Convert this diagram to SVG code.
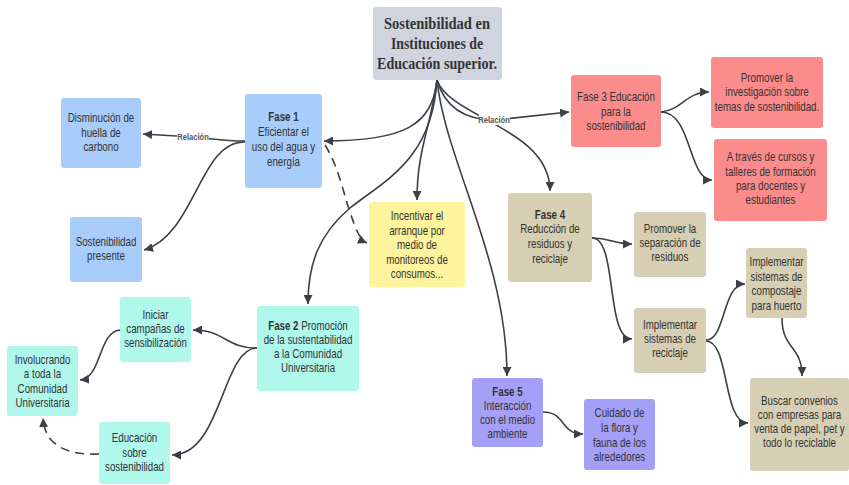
<svg xmlns="http://www.w3.org/2000/svg" width="849" height="485" viewBox="0 0 849 485">
  <defs>
    <marker id="arrow" markerUnits="userSpaceOnUse" markerWidth="10" markerHeight="9" refX="9" refY="4.5" orient="auto">
      <path d="M0,0 L9,4.5 L0,9 z" fill="#3b3f47"/>
    </marker>
    <style>
      .node rect { rx: 3px; ry: 3px; }
      .t { font-family: "Liberation Sans", Arial, sans-serif; font-size: 12.5px; fill: #333333; text-anchor: middle; }
      .b { font-weight: bold; }
      .root { font-family: "Liberation Serif", "Times New Roman", serif; font-size: 17px; font-weight: bold; fill: #333333; text-anchor: middle; }
      .c { fill: none; stroke: #3b3f47; stroke-width: 1.6; marker-end: url(#arrow); }
      .d { stroke-dasharray: 9 6; }
      .lbl { font-family: "Liberation Sans", Arial, sans-serif; font-size: 9.5px; font-weight: bold; fill: #555555; text-anchor: middle; }
      .blue { fill: #a9cdfa; }
      .yellow { fill: #fdf49d; }
      .cyan { fill: #b0f7ec; }
      .red { fill: #fc8c8c; }
      .tan { fill: #d6cfb3; }
      .purple { fill: #a5a0f7; }
      .gray { fill: #cfd4de; }
    </style>
  </defs>

  <rect width="849" height="485" fill="#ffffff"/>

  <!-- connectors -->
  <g id="connectors">
    <path class="c" d="M437,80 C432,125 405,141 324,141"/>
    <path class="c" d="M437,80 C430,130 417,150 417,200"/>
    <path class="c" d="M437,80 C432,160 385,180 350,208 C318,235 308,265 308,304"/>
    <path class="c" d="M437,80 C445,160 507,260 507,376"/>
    <path class="c" d="M437,80 C450,118 550,128 550,191"/>
    <path class="c" d="M437,80 C445,108 465,120 495,120 L569,112"/>
    <path class="c" d="M245,141 C225,141 215,139 193,137 L143,134"/>
    <path class="c" d="M245,142 C200,140 195,235 144,250"/>
    <path class="c d" d="M325,145 C338,165 344,195 350,212 C356,230 360,240 367,243"/>
    <path class="c" d="M257,348 C225,348 225,330 193,330"/>
    <path class="c" d="M257,348 C222,348 222,455 172,455"/>
    <path class="c" d="M120,330 C98,332 102,378 80,380"/>
    <path class="c d" d="M99,454 C70,455 45,448 43,418"/>
    <path class="c" d="M661,112 C682,110 686,92 709,92"/>
    <path class="c" d="M661,112 C692,112 688,180 712,180"/>
    <path class="c" d="M592,238 C612,238 612,244 632,244"/>
    <path class="c" d="M592,238 C618,238 605,339 632,339"/>
    <path class="c" d="M706,340 C726,340 722,284 745,284"/>
    <path class="c" d="M706,341 C730,341 722,423 748,423"/>
    <path class="c" d="M782,318 C782,350 802,345 802,376"/>
    <path class="c" d="M543,412 C566,412 560,434 583,434"/>
    <!-- edge labels -->
    <rect x="479" y="114" width="31" height="11" fill="#ffffff"/>
    <text class="lbl" transform="translate(494 123) scale(0.8 1)">Relación</text>
    <rect x="177" y="131" width="32" height="11" fill="#ffffff"/>
    <text class="lbl" transform="translate(193 140) scale(0.8 1)">Relación</text>
  </g>

  <!-- nodes; body text is set in a narrowed sans -->
  <g id="root" class="node">
    <rect class="gray" x="373" y="7" width="129" height="73"/>
    <text class="root" x="437" y="29" textLength="106" lengthAdjust="spacingAndGlyphs">Sostenibilidad en</text>
    <text class="root" x="437" y="49" textLength="92" lengthAdjust="spacingAndGlyphs">Instituciones de</text>
    <text class="root" x="437" y="69" textLength="120" lengthAdjust="spacingAndGlyphs">Educación superior.</text>
  </g>

  <g id="fase1" class="node">
    <rect class="blue" x="245" y="94" width="77" height="94"/>
    <g transform="translate(283.5 0) scale(0.78 1)">
      <text class="t b" x="0" y="121">Fase 1</text>
      <text class="t" x="0" y="136">Eficientar el</text>
      <text class="t" x="0" y="151">uso del agua y</text>
      <text class="t" x="0" y="166">energía</text>
    </g>
  </g>

  <g id="huella" class="node">
    <rect class="blue" x="61" y="98" width="80" height="70"/>
    <g transform="translate(101 0) scale(0.78 1)">
      <text class="t" x="0" y="122">Disminución de</text>
      <text class="t" x="0" y="137">huella de</text>
      <text class="t" x="0" y="151">carbono</text>
    </g>
  </g>

  <g id="presente" class="node">
    <rect class="blue" x="70" y="217" width="72" height="65"/>
    <g transform="translate(106 0) scale(0.78 1)">
      <text class="t" x="0" y="246">Sostenibilidad</text>
      <text class="t" x="0" y="260">presente</text>
    </g>
  </g>

  <g id="monitoreo" class="node">
    <rect class="yellow" x="369" y="202" width="96" height="85"/>
    <g transform="translate(417 0) scale(0.78 1)">
      <text class="t" x="0" y="220">Incentivar el</text>
      <text class="t" x="0" y="235">arranque por</text>
      <text class="t" x="0" y="249">medio de</text>
      <text class="t" x="0" y="264">monitoreos de</text>
      <text class="t" x="0" y="278">consumos...</text>
    </g>
  </g>

  <g id="fase2" class="node">
    <rect class="cyan" x="257" y="306" width="102" height="85"/>
    <g transform="translate(308 0) scale(0.78 1)">
      <text class="t" x="0" y="330"><tspan class="b">Fase 2</tspan> Promoción</text>
      <text class="t" x="0" y="344">de la sustentabilidad</text>
      <text class="t" x="0" y="358">a la Comunidad</text>
      <text class="t" x="0" y="372">Universitaria</text>
    </g>
  </g>

  <g id="campanas" class="node">
    <rect class="cyan" x="120" y="297" width="71" height="65"/>
    <g transform="translate(155.5 0) scale(0.78 1)">
      <text class="t" x="0" y="319">Iniciar</text>
      <text class="t" x="0" y="333">campañas de</text>
      <text class="t" x="0" y="347">sensibilización</text>
    </g>
  </g>

  <g id="involucrando" class="node">
    <rect class="cyan" x="7" y="346" width="71" height="70"/>
    <g transform="translate(42.5 0) scale(0.78 1)">
      <text class="t" x="0" y="364">Involucrando</text>
      <text class="t" x="0" y="378.5">a toda la</text>
      <text class="t" x="0" y="393">Comunidad</text>
      <text class="t" x="0" y="407">Universitaria</text>
    </g>
  </g>

  <g id="educacion" class="node">
    <rect class="cyan" x="99" y="422" width="71" height="62"/>
    <g transform="translate(134.5 0) scale(0.78 1)">
      <text class="t" x="0" y="442">Educación</text>
      <text class="t" x="0" y="457">sobre</text>
      <text class="t" x="0" y="471">sostenibilidad</text>
    </g>
  </g>

  <g id="fase3" class="node">
    <rect class="red" x="571" y="75" width="90" height="72"/>
    <g transform="translate(616 0) scale(0.78 1)">
      <text class="t" x="0" y="101">Fase 3 Educación</text>
      <text class="t" x="0" y="116">para la</text>
      <text class="t" x="0" y="130">sostenibilidad</text>
    </g>
  </g>

  <g id="investigacion" class="node">
    <rect class="red" x="711" y="57" width="112" height="71"/>
    <g transform="translate(767 0) scale(0.78 1)">
      <text class="t" x="0" y="82">Promover la</text>
      <text class="t" x="0" y="96">investigación sobre</text>
      <text class="t" x="0" y="111">temas de sostenibilidad.</text>
    </g>
  </g>

  <g id="cursos" class="node">
    <rect class="red" x="714" y="139" width="113" height="82"/>
    <g transform="translate(770.5 0) scale(0.78 1)">
      <text class="t" x="0" y="161">A través de cursos y</text>
      <text class="t" x="0" y="176">talleres de formación</text>
      <text class="t" x="0" y="190">para docentes y</text>
      <text class="t" x="0" y="204">estudiantes</text>
    </g>
  </g>

  <g id="fase4" class="node">
    <rect class="tan" x="508" y="193" width="84" height="89"/>
    <g transform="translate(550 0) scale(0.78 1)">
      <text class="t b" x="0" y="219">Fase 4</text>
      <text class="t" x="0" y="233">Reducción de</text>
      <text class="t" x="0" y="248">residuos y</text>
      <text class="t" x="0" y="263">reciclaje</text>
    </g>
  </g>

  <g id="separacion" class="node">
    <rect class="tan" x="634" y="212" width="72" height="65"/>
    <g transform="translate(670 0) scale(0.78 1)">
      <text class="t" x="0" y="233">Promover la</text>
      <text class="t" x="0" y="247">separación de</text>
      <text class="t" x="0" y="261">residuos</text>
    </g>
  </g>

  <g id="reciclaje" class="node">
    <rect class="tan" x="634" y="308" width="72" height="65"/>
    <g transform="translate(670 0) scale(0.78 1)">
      <text class="t" x="0" y="329">Implementar</text>
      <text class="t" x="0" y="343">sistemas de</text>
      <text class="t" x="0" y="357">reciclaje</text>
    </g>
  </g>

  <g id="compostaje" class="node">
    <rect class="tan" x="746" y="248" width="61" height="70"/>
    <g transform="translate(776.5 0) scale(0.78 1)">
      <text class="t" x="0" y="266">Implementar</text>
      <text class="t" x="0" y="281">sistemas de</text>
      <text class="t" x="0" y="295">compostaje</text>
      <text class="t" x="0" y="310">para huerto</text>
    </g>
  </g>

  <g id="convenios" class="node">
    <rect class="tan" x="750" y="378" width="99" height="93"/>
    <g transform="translate(799.5 0) scale(0.78 1)">
      <text class="t" x="0" y="405">Buscar convenios</text>
      <text class="t" x="0" y="419">con empresas para</text>
      <text class="t" x="0" y="433">venta de papel, pet y</text>
      <text class="t" x="0" y="447">todo lo reciclable</text>
    </g>
  </g>

  <g id="fase5" class="node">
    <rect class="purple" x="472" y="378" width="71" height="69"/>
    <g transform="translate(507.5 0) scale(0.78 1)">
      <text class="t b" x="0" y="396">Fase 5</text>
      <text class="t" x="0" y="410">Interacción</text>
      <text class="t" x="0" y="424">con el medio</text>
      <text class="t" x="0" y="438">ambiente</text>
    </g>
  </g>

  <g id="flora" class="node">
    <rect class="purple" x="584" y="399" width="71" height="71"/>
    <g transform="translate(619.5 0) scale(0.78 1)">
      <text class="t" x="0" y="417">Cuidado de</text>
      <text class="t" x="0" y="432">la flora y</text>
      <text class="t" x="0" y="447">fauna de los</text>
      <text class="t" x="0" y="461">alrededores</text>
    </g>
  </g>
</svg>
